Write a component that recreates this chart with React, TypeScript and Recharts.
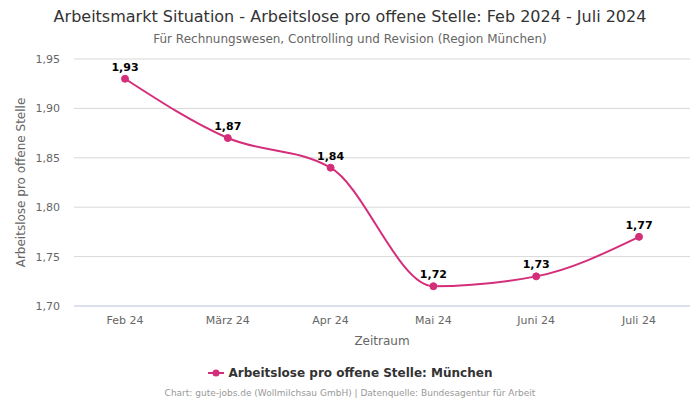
import { LineChart, Line, XAxis, YAxis, CartesianGrid, LabelList } from 'recharts';

const months = ['Feb 24', 'März 24', 'Apr 24', 'Mai 24', 'Juni 24', 'Juli 24'];
const values = [1.93, 1.87, 1.84, 1.72, 1.73, 1.77];
const yTicks = [1.7, 1.75, 1.8, 1.85, 1.9, 1.95];

const data = months.map((m, i) => ({ month: m, value: values[i] }));

const color = '#d42e7b';
const font = '"DejaVu Sans", sans-serif';
const fmt = (v: number) => v.toFixed(2).replace('.', ',');

export default function App() {
	return (
		<div style={{ position: 'absolute', left: 0, top: 0, width: 700, height: 400, fontFamily: font, background: '#fff' }}>
			<div style={{ position: 'absolute', top: 7, width: 700, textAlign: 'center', fontSize: 16, color: '#333' }}>
				Arbeitsmarkt Situation - Arbeitslose pro offene Stelle: Feb 2024 - Juli 2024
			</div>
			<div style={{ position: 'absolute', top: 32, width: 700, textAlign: 'center', fontSize: 12, color: '#666' }}>
				Für Rechnungswesen, Controlling und Revision (Region München)
			</div>
			<LineChart width={700} height={400} data={data} margin={{ top: 59, right: 10, bottom: 54, left: 0 }}>
				<CartesianGrid vertical={false} stroke="#d8d8d8" />
				<XAxis
					dataKey="month"
					tick={{ fontSize: 11, fill: '#666', fontFamily: font }}
					tickLine={false}
					axisLine={{ stroke: '#ccd6eb' }}
					padding={{ left: 51, right: 51 }}
					height={40}
					tickMargin={4}
					label={{ value: 'Zeitraum', position: 'insideBottom', offset: 1, fontSize: 12, fill: '#666', fontFamily: font }}
				/>
				<YAxis
					domain={[1.7, 1.95]}
					ticks={yTicks}
					tickFormatter={fmt}
					tick={{ fontSize: 11, fill: '#666', fontFamily: font }}
					tickLine={false}
					axisLine={false}
					tickMargin={8}
					width={74}
					label={{ value: 'Arbeitslose pro offene Stelle', angle: -90, position: 'center', dx: -16, fontSize: 12, fill: '#666', fontFamily: font }}
				/>
				<Line type="monotone" dataKey="value" stroke={color} strokeWidth={2} dot={{ r: 3.5, fill: color, stroke: color, strokeWidth: 1 }} isAnimationActive={false}>
					<LabelList dataKey="value" position="top" offset={8} formatter={(v: any) => fmt(Number(v))} style={{ fontSize: 11, fontWeight: 'bold', fill: '#000', fontFamily: font }} />
				</Line>
			</LineChart>
			<div style={{ position: 'absolute', top: 366, width: 700, display: 'flex', justifyContent: 'center', alignItems: 'center', fontSize: 12, fontWeight: 'bold', color: '#333' }}>
				<svg width={16} height={10} style={{ marginRight: 5 }}>
					<line x1={0} y1={5} x2={16} y2={5} stroke={color} strokeWidth={2} />
					<circle cx={8} cy={5} r={3.5} fill={color} />
				</svg>
				Arbeitslose pro offene Stelle: München
			</div>
			<div style={{ position: 'absolute', top: 388, width: 700, textAlign: 'center', fontSize: 9, color: '#999' }}>
				Chart: gute-jobs.de (Wollmilchsau GmbH) | Datenquelle: Bundesagentur für Arbeit
			</div>
		</div>
	);
}
